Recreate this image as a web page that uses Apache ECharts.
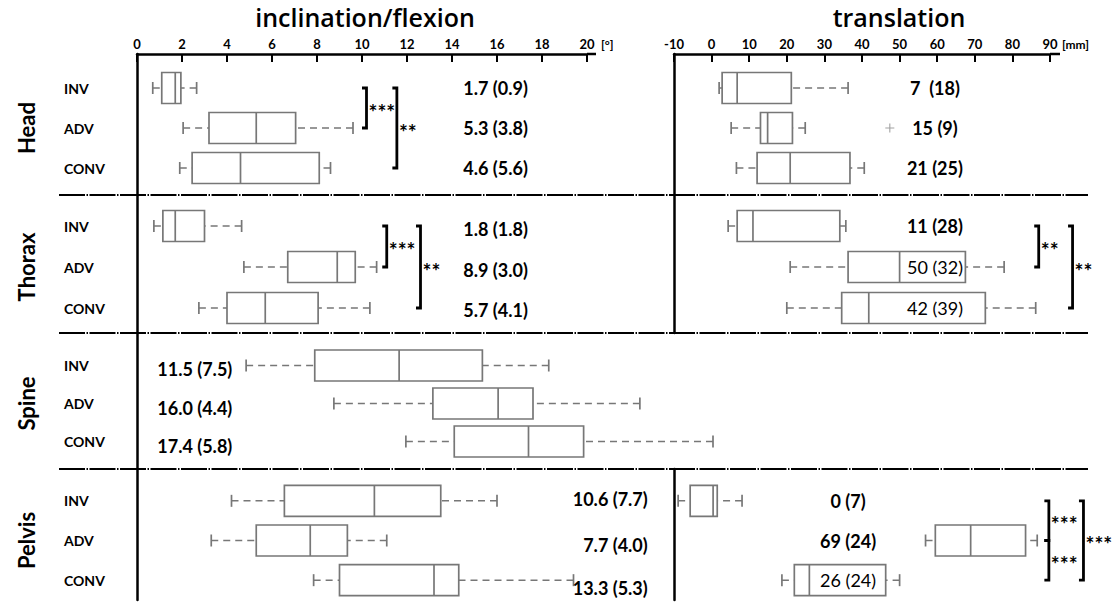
<!DOCTYPE html>
<html>
<head>
<meta charset="utf-8">
<script src="https://cdn.jsdelivr.net/npm/echarts@6/dist/echarts.min.js"></script>
<style>html,body{margin:0;padding:0;background:#fff}#c{width:1115px;height:602px}</style>
</head>
<body>
<div id="c"></div>
<script>
// ---------------- DATA ----------------
const groups = ['INV', 'ADV', 'CONV'];
const parts = ['Head', 'Thorax', 'Spine', 'Pelvis'];

// inclination/flexion [°] : [min, Q1, median, Q3, max] per group
const headInc   = [[0.7, 1.1, 1.7, 1.95, 2.65], [2.05, 3.2, 5.3, 7.05, 9.6], [1.9, 2.45, 4.6, 8.1, 8.6]];
const thoraxInc = [[0.75, 1.15, 1.7, 3.0, 4.65], [4.75, 6.7, 8.9, 9.7, 10.65], [2.75, 4.0, 5.7, 8.05, 10.35]];
const spineInc  = [[4.85, 7.9, 11.65, 15.35, 18.3], [8.75, 13.15, 16.05, 17.6, 22.35], [11.95, 14.1, 17.4, 19.85, 25.6]];
const pelvisInc = [[4.2, 6.55, 10.55, 13.5, 16.0], [3.3, 5.3, 7.7, 9.35, 11.1], [7.85, 9.0, 13.2, 14.3, 19.4]];

// translation [mm]
const headTr   = [[2.0, 2.8, 6.8, 21.2, 36.3], [5.2, 13.0, 14.9, 21.5, 24.9], [6.6, 12.1, 20.9, 36.8, 40.6]];
const thoraxTr = [[4.4, 6.8, 11.0, 34.1, 35.7], [20.9, 36.3, 50.0, 67.5, 77.8], [20.0, 34.6, 41.8, 72.8, 86.2]];
const pelvisTr = [[-8.9, -5.7, 0.4, 1.5, 8.1], [56.9, 59.5, 68.9, 83.5, 86.6], [18.7, 22.0, 26.0, 46.3, 50.0]];
const headTrOutliers = [[47.4, 1]]; // [value, group index]

// median (IQR) annotations
const headIncText   = ['1.7 (0.9)', '5.3 (3.8)', '4.6 (5.6)'];
const thoraxIncText = ['1.8 (1.8)', '8.9 (3.0)', '5.7 (4.1)'];
const spineIncText  = ['11.5 (7.5)', '16.0 (4.4)', '17.4 (5.8)'];
const pelvisIncText = ['10.6 (7.7)', '7.7 (4.0)', '13.3 (5.3)'];
const headTrText    = ['7  (18)', '15 (9)', '21 (25)'];
const thoraxTrText  = ['11 (28)', '50 (32)', '42 (39)'];
const pelvisTrText  = ['0 (7)', '69 (24)', '26 (24)'];

// significance brackets: [from group, to group, stars]
const headIncSig   = [[0, 1, '***'], [0, 2, '**']];
const thoraxIncSig = [[0, 1, '***'], [0, 2, '**']];
const thoraxTrSig  = [[0, 1, '**'], [0, 2, '**']];
const pelvisTrSig  = [[0, 1, '***'], [1, 2, '***'], [0, 2, '***']];

const incAxis = { min: 0, max: 20, interval: 2, unit: '[°]', title: 'inclination/flexion' };
const trAxis  = { min: -10, max: 90, interval: 10, unit: '[mm]', title: 'translation' };

// ---------------- LAYOUT ----------------
const FONT = 'Lato, "Open Sans", sans-serif';
const L = { x: 137, w: 450 };
const R = { x: 674, w: 376 };
const AXIS_Y = 54, BOTTOM = 600;
const rowBands = [{ top: 68, h: 120 }, { top: 205.5, h: 123 }, { top: 346.5, h: 114 }, { top: 481, h: 119 }];
const dividers = [195, 333, 469];
const BOX_H = 31, CAP_H = 12;
const GREY = '#777777';
const VAL_FS = 18, CAT_FS = 14, STAR_FS = 21;

const panels = [
  { side: 'L', row: 0, data: headInc, text: headIncText, tx: 14.5, align: 'left', sig: headIncSig, sigX: [10.2, 11.55] },
  { side: 'L', row: 1, data: thoraxInc, text: thoraxIncText, tx: 14.5, align: 'left', dy: [3, 3, 2], sig: thoraxIncSig, sigX: [11.1, 12.6] },
  { side: 'L', row: 2, data: spineInc, text: spineIncText, tx: 0.9, align: 'left', dy: [3, 4, 4] },
  { side: 'L', row: 3, data: pelvisInc, text: pelvisIncText, tx: 22.7, align: 'right', dy: [-2, 4, 8] },
  { side: 'R', row: 0, data: headTr, text: headTrText, tx: 59.4, align: 'center', outliers: headTrOutliers },
  { side: 'R', row: 1, data: thoraxTr, text: thoraxTrText, tx: 59.4, align: 'center', bold: [1, 0, 0], sig: thoraxTrSig, sigX: [87.0, 96.0] },
  { side: 'R', row: 3, data: pelvisTr, text: pelvisTrText, tx: 36.3, align: 'center', bold: [1, 1, 0], sig: pelvisTrSig, sigX: [89.7, 89.7, 98.9] }
];

// ---------------- BUILD ----------------
const grids = [], xAxes = [], yAxes = [], series = [];

function addFrame(side, top, height, showX) {
  const s = side === 'L' ? L : R;
  const ax = side === 'L' ? incAxis : trAxis;
  grids.push({ left: s.x, top: top, width: s.w, height: height });
  const gi = grids.length - 1;
  xAxes.push({
    gridIndex: gi, type: 'value', position: 'top', min: ax.min, max: ax.max, interval: ax.interval, show: showX,
    axisLine: { show: true, onZero: false, lineStyle: { color: '#000', width: 2.5 } },
    axisTick: { show: true, inside: true, length: 8, lineStyle: { color: '#000', width: 2 } },
    axisLabel: { show: true, margin: 4, color: '#000', fontFamily: FONT, fontWeight: 'bold', fontSize: 13, lineHeight: 13 },
    splitLine: { show: false }
  });
  yAxes.push({
    gridIndex: gi, type: 'value', min: 0, max: 1,
    axisLine: { show: true, onZero: false, lineStyle: { color: '#000', width: 2.5 } },
    axisTick: { show: false }, axisLabel: { show: false }, splitLine: { show: false }
  });
}

addFrame('L', AXIS_Y, BOTTOM - AXIS_Y, true);
addFrame('R', AXIS_Y, dividers[1] - AXIS_Y, true);
addFrame('R', dividers[2], BOTTOM - dividers[2], false);

function boxRender(params, api) {
  const c = api.value(0);
  const p = [1, 2, 3, 4, 5].map(d => api.coord([api.value(d), c]));
  const y = p[0][1];
  const dash = { stroke: GREY, lineWidth: 1.5, lineDash: [7, 5] };
  const solid = { stroke: GREY, lineWidth: 1.7 };
  return {
    type: 'group', children: [
      { type: 'line', shape: { x1: p[0][0], y1: y, x2: p[1][0], y2: y }, style: dash },
      { type: 'line', shape: { x1: p[4][0], y1: y, x2: p[3][0], y2: y }, style: dash },
      { type: 'line', shape: { x1: p[0][0], y1: y - CAP_H / 2, x2: p[0][0], y2: y + CAP_H / 2 }, style: solid },
      { type: 'line', shape: { x1: p[4][0], y1: y - CAP_H / 2, x2: p[4][0], y2: y + CAP_H / 2 }, style: solid },
      { type: 'rect', shape: { x: p[1][0], y: y - BOX_H / 2, width: p[3][0] - p[1][0], height: BOX_H }, style: { fill: '#fff', stroke: GREY, lineWidth: 1.7 } },
      { type: 'line', shape: { x1: p[2][0], y1: y - BOX_H / 2, x2: p[2][0], y2: y + BOX_H / 2 }, style: solid }
    ]
  };
}

panels.forEach(pn => {
  const s = pn.side === 'L' ? L : R;
  const ax = pn.side === 'L' ? incAxis : trAxis;
  const band = rowBands[pn.row];
  grids.push({ left: s.x, top: band.top, width: s.w, height: band.h });
  const gi = grids.length - 1;
  xAxes.push({ gridIndex: gi, type: 'value', min: ax.min, max: ax.max, show: false });
  yAxes.push({
    gridIndex: gi, type: 'category', data: groups, inverse: true, show: pn.side === 'L',
    axisLine: { show: false }, axisTick: { show: false }, splitLine: { show: false },
    axisLabel: { show: true, align: 'left', margin: L.x - 64, color: '#000', fontFamily: FONT, fontWeight: 'bold', fontSize: CAT_FS }
  });

  series.push({
    type: 'custom', name: parts[pn.row] + ' ' + pn.side, xAxisIndex: gi, yAxisIndex: gi, silent: true, clip: false,
    data: pn.data.map((v, i) => [i].concat(v)),
    encode: { y: 0, x: [1, 2, 3, 4, 5] },
    renderItem: boxRender, z: 2
  });

  series.push({
    type: 'custom', xAxisIndex: gi, yAxisIndex: gi, silent: true, clip: false, z: 5,
    data: pn.text.map((t, i) => [pn.tx, i]),
    encode: { x: 0, y: 1 },
    renderItem: (params, api) => {
      const i = params.dataIndex;
      const pt = api.coord([api.value(0), api.value(1)]);
      const bold = pn.bold ? pn.bold[i] : 1;
      return {
        type: 'text', x: pt[0], y: pt[1] + (pn.dy ? pn.dy[i] : 0),
        style: { text: pn.text[i], fill: '#000', fontFamily: FONT, fontSize: VAL_FS, fontWeight: bold ? 'bold' : 'normal', align: pn.align, verticalAlign: 'middle' }
      };
    }
  });

  if (pn.sig) {
    series.push({
      type: 'custom', xAxisIndex: gi, yAxisIndex: gi, silent: true, clip: false, z: 5,
      data: pn.sig.map((sg, i) => [pn.sigX[i], sg[0], sg[1]]),
      encode: { x: 0, y: [1, 2] },
      renderItem: (params, api) => {
        const x = api.value(0);
        const a = api.coord([x, api.value(1)]);
        const b = api.coord([x, api.value(2)]);
        const tk = 4.5;
        return {
          type: 'group', children: [
            { type: 'polyline', shape: { points: [[a[0] - tk, a[1]], [a[0], a[1]], [b[0], b[1]], [b[0] - tk, b[1]]] }, style: { stroke: '#000', lineWidth: 2.8, fill: 'none' } },
            { type: 'text', x: a[0] + 2, y: (a[1] + b[1]) / 2 + 3, style: { text: pn.sig[params.dataIndex][2], fill: '#000', fontFamily: FONT, fontWeight: 'bold', fontSize: STAR_FS, align: 'left', verticalAlign: 'middle' } }
          ]
        };
      }
    });
  }

  if (pn.outliers) {
    series.push({
      type: 'scatter', xAxisIndex: gi, yAxisIndex: gi, silent: true, data: pn.outliers,
      symbol: 'path://M4.4,0h1.2v4.4h4.4v1.2h-4.4v4.4h-1.2v-4.4h-4.4v-1.2h4.4z', symbolSize: 9,
      itemStyle: { color: '#8a8a8a' }
    });
  }
});

// decorations
const graphic = [];
const TITLE_FONT = '"Open Sans", Lato, sans-serif';
graphic.push({ type: 'text', x: 365, y: 17, style: { text: incAxis.title, fill: '#000', fontFamily: TITLE_FONT, fontWeight: 600, fontSize: 25, lineHeight: 26, align: 'center', verticalAlign: 'middle' } });
graphic.push({ type: 'text', x: 899, y: 17, style: { text: trAxis.title, fill: '#000', fontFamily: TITLE_FONT, fontWeight: 600, fontSize: 25, lineHeight: 26, align: 'center', verticalAlign: 'middle' } });
graphic.push({ type: 'text', x: 601, y: AXIS_Y - 4, style: { text: incAxis.unit, fill: '#000', fontFamily: FONT, fontWeight: 'bold', fontSize: 12, align: 'left', verticalAlign: 'bottom' } });
graphic.push({ type: 'text', x: 1062, y: AXIS_Y - 4, style: { text: trAxis.unit, fill: '#000', fontFamily: FONT, fontWeight: 'bold', fontSize: 12, align: 'left', verticalAlign: 'bottom' } });
graphic.push({ type: 'line', shape: { x1: L.x + L.w, y1: AXIS_Y, x2: L.x + L.w + 9, y2: AXIS_Y }, style: { stroke: '#000', lineWidth: 2.5 } });
graphic.push({ type: 'line', shape: { x1: R.x + R.w, y1: AXIS_Y, x2: R.x + R.w + 10, y2: AXIS_Y }, style: { stroke: '#000', lineWidth: 2.5 } });
dividers.forEach(y => graphic.push({ type: 'line', shape: { x1: 59, y1: y, x2: 1088, y2: y }, style: { stroke: '#000', lineWidth: 2, lineDash: [26, 1.5, 1.5, 1.5] } }));
parts.forEach((name, i) => {
  const b = rowBands[i];
  graphic.push({ type: 'text', x: 26, y: b.top + b.h / 2, rotation: Math.PI / 2, style: { text: name, fill: '#000', fontFamily: FONT, fontWeight: 'bold', fontSize: 22, align: 'center', verticalAlign: 'middle' } });
});

const chart = echarts.init(document.getElementById('c'), null, { renderer: 'svg', width: 1115, height: 602 });
chart.setOption({
  animation: false,
  backgroundColor: '#fff',
  grid: grids,
  xAxis: xAxes,
  yAxis: yAxes,
  series: series,
  graphic: graphic
});
</script>
</body>
</html>
